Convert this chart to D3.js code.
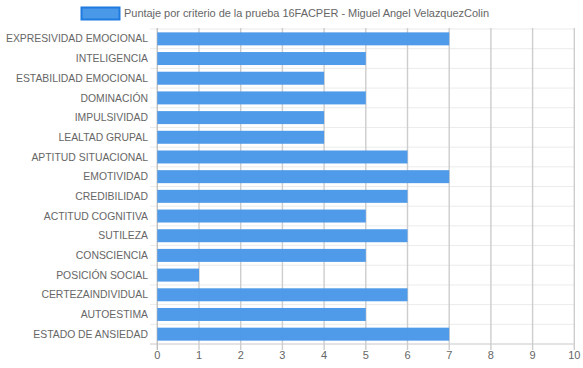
<!DOCTYPE html>
<html><head><meta charset="utf-8">
<script src="https://cdn.jsdelivr.net/npm/d3@7"></script>
<style>body{margin:0;background:#fff}svg{display:block}text{font-family:"Liberation Sans",Arial,sans-serif;fill:#666}</style>
</head><body><svg id="c" width="583" height="368"></svg>
<script>
const categories = ["EXPRESIVIDAD EMOCIONAL","INTELIGENCIA","ESTABILIDAD EMOCIONAL","DOMINACIÓN","IMPULSIVIDAD","LEALTAD GRUPAL","APTITUD SITUACIONAL","EMOTIVIDAD","CREDIBILIDAD","ACTITUD COGNITIVA","SUTILEZA","CONSCIENCIA","POSICIÓN SOCIAL","CERTEZAINDIVIDUAL","AUTOESTIMA","ESTADO DE ANSIEDAD"];
const values = [7,5,4,5,4,4,6,7,6,5,6,5,1,6,5,7];
const xTicks = [0,1,2,3,4,5,6,7,8,9,10];
const seriesName = "Puntaje por criterio de la prueba 16FACPER - Miguel Angel VelazquezColin";

const svg = d3.select("#c");
const L = 157.3, R = 574.3, T = 29, B = 344;
const x = d3.scaleLinear().domain([0,10]).range([L,R]);
const y = d3.scaleBand().domain(categories).range([T,B]).paddingInner(0.34).paddingOuter(0.17);
const step = (B-T)/categories.length;

// horizontal gridlines (category separators)
const g = svg.append("g");
d3.range(categories.length+1).forEach(i=>{
  const yy = T + i*step;
  g.append("line").attr("x1",150).attr("x2",R).attr("y1",yy).attr("y2",yy)
   .attr("stroke", i===categories.length ? "#c8c8c8" : "#ebebeb").attr("stroke-width",1);
});
// vertical gridlines
xTicks.forEach(t=>{
  g.append("line").attr("x1",x(t)).attr("x2",x(t)).attr("y1",T-1).attr("y2",B+6)
   .attr("stroke", t===0 ? "#c0c0c0" : "#cdcdcd").attr("stroke-width",1.4);
});

// bars
svg.append("g").selectAll("rect").data(values).join("rect")
  .attr("x", x(0)).attr("y",(d,i)=>y(categories[i]))
  .attr("width", d=>x(d)-x(0)).attr("height", y.bandwidth())
  .attr("fill","#4a98e8").attr("fill-opacity",0.97);

// y labels
svg.append("g").selectAll("text").data(categories).join("text")
  .attr("x",148).attr("y",d=>y(d)+y.bandwidth()/2).attr("dy","0.35em")
  .attr("text-anchor","end").attr("font-size","10.4px").text(d=>d);

// x tick labels
svg.append("g").selectAll("text").data(xTicks).join("text")
  .attr("x",d=>x(d)).attr("y",355).attr("dy","0.35em")
  .attr("text-anchor","middle").attr("font-size","11px").text(d=>d);

// legend
svg.append("rect").attr("x",81.5).attr("y",7.5).attr("width",38).attr("height",12)
  .attr("fill","#4a98e8").attr("stroke","#1e7be0").attr("stroke-width",2);
svg.append("text").attr("x",124).attr("y",13.5).attr("dy","0.35em")
  .attr("font-size","11px").attr("textLength",365).attr("lengthAdjust","spacing").text(seriesName);
</script></body></html>
